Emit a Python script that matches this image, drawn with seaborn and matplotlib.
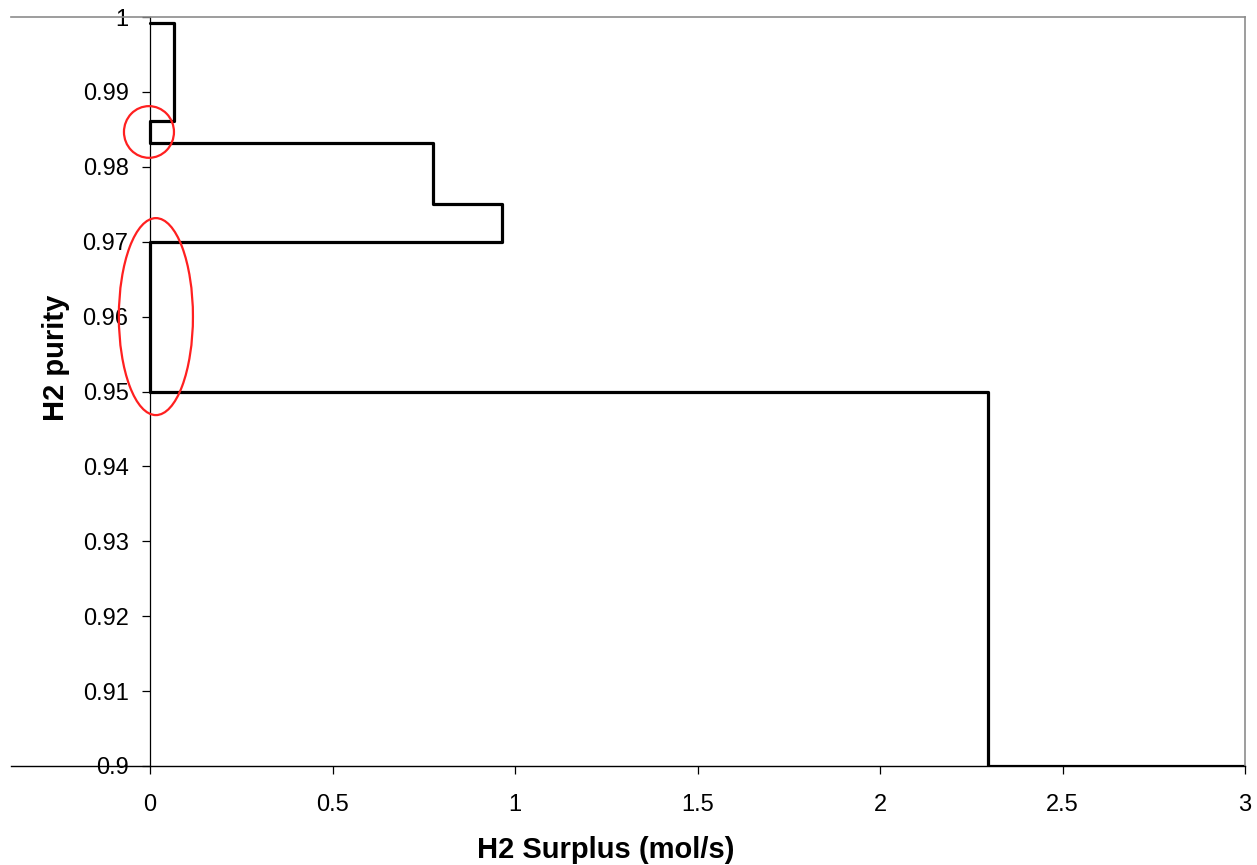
import matplotlib
matplotlib.use("Agg")
import matplotlib.pyplot as plt
from matplotlib.patches import Ellipse
import seaborn as sns
import pandas as pd

# Data: step vertices of the hydrogen surplus diagram (steps-post)
surplus = [0.0, 0.065, 0.0, 0.775, 0.965, 0.0, 2.296, 3.0]
purity = [0.9992, 0.9861, 0.9832, 0.975, 0.970, 0.95, 0.90, 0.90]

x_ticks = [0, 0.5, 1, 1.5, 2, 2.5, 3]
x_tick_labels = ["0", "0.5", "1", "1.5", "2", "2.5", "3"]
y_ticks = [0.90, 0.91, 0.92, 0.93, 0.94, 0.95, 0.96, 0.97, 0.98, 0.99, 1.0]
y_tick_labels = ["0.9", "0.91", "0.92", "0.93", "0.94", "0.95", "0.96", "0.97", "0.98", "0.99", "1"]

# Highlight ellipses (center x, center y, width, height) in data units
ell_cx = [-0.003, 0.016]
ell_cy = [0.98465, 0.960]
ell_w = [0.137, 0.203]
ell_h = [0.0069, 0.0263]

sns.set_theme(style="white")
plt.rcParams["font.family"] = ["Liberation Sans", "DejaVu Sans"]

fig = plt.figure(figsize=(12.57, 8.65), dpi=100)
ax = fig.add_axes([11 / 1257, 1 - 766 / 865, 1234 / 1257, 749 / 865])

df = pd.DataFrame({"surplus": surplus, "purity": purity})
sns.lineplot(data=df, x="surplus", y="purity", sort=False, estimator=None,
             color="black", linewidth=2.3, drawstyle="steps-post", ax=ax)

for cx, cy, w, h in zip(ell_cx, ell_cy, ell_w, ell_h):
    ax.add_patch(Ellipse((cx, cy), w, h, fill=False, edgecolor="#ff2020",
                         linewidth=1.6, zorder=5))

ax.set_xlim(-0.381, 3.0)
ax.set_ylim(0.9, 1.0)
ax.set_xticks(x_ticks)
ax.set_xticklabels(x_tick_labels)
ax.set_yticks(y_ticks)
ax.set_yticklabels(y_tick_labels)

ax.spines["left"].set_position(("data", 0))
ax.spines["left"].set_color("black")
ax.spines["left"].set_linewidth(0.9)
ax.spines["bottom"].set_color("black")
ax.spines["bottom"].set_linewidth(1.0)
ax.spines["top"].set_color("#8c8c8c")
ax.spines["top"].set_linewidth(1.2)
ax.spines["right"].set_color("#8c8c8c")
ax.spines["right"].set_linewidth(1.2)

ax.tick_params(axis="y", direction="out", length=6, width=0.9, color="black",
               labelsize=17, labelcolor="black", pad=9.5, left=True)
ax.tick_params(axis="x", direction="out", length=6, width=0.9, color="black",
               labelsize=17, labelcolor="black", pad=14.5, bottom=True)

ax.set_xlabel("H2 Surplus (mol/s)", fontsize=21, fontweight="bold", color="black")
ax.set_ylabel("H2 purity", fontsize=21, fontweight="bold", color="black")
ax.xaxis.set_label_coords(0.482, -0.093)
ax.yaxis.set_label_coords(0.048, 0.545)

fig.savefig("out.png", dpi=100, facecolor="white")
